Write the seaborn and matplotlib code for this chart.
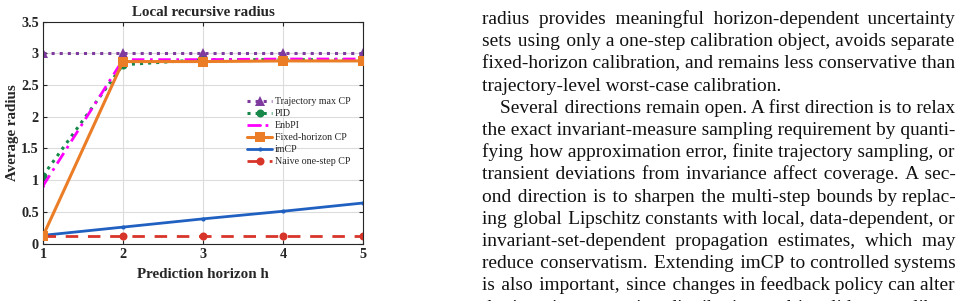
import numpy as np
import pandas as pd
import matplotlib
matplotlib.use("Agg")
import matplotlib.pyplot as plt
import seaborn as sns

# values
horizon = [1, 2, 3, 4, 5]
traj_max_cp = [3.01, 3.01, 3.01, 3.01, 3.01]
pid = [1.07, 2.82, 2.90, 2.90, 2.90]
enbpi = [0.91, 2.90, 2.90, 2.91, 2.91]
fixed_cp = [0.12, 2.87, 2.87, 2.88, 2.88]
imcp = [0.13, 0.26, 0.39, 0.51, 0.64]
naive_cp = [0.12, 0.12, 0.12, 0.12, 0.12]

yticks = [0, 0.5, 1, 1.5, 2, 2.5, 3, 3.5]
ytick_labels = ["0", "0.5", "1", "1.5", "2", "2.5", "3", "3.5"]

body_lines = [
    "radius provides meaningful horizon-dependent uncertainty",
    "sets using only a one-step calibration object, avoids separate",
    "fixed-horizon calibration, and remains less conservative than",
    "trajectory-level worst-case calibration.",
    "Several directions remain open. A first direction is to relax",
    "the exact invariant-measure sampling requirement by quanti-",
    "fying how approximation error, finite trajectory sampling, or",
    "transient deviations from invariance affect coverage. A sec-",
    "ond direction is to sharpen the multi-step bounds by replac-",
    "ing global Lipschitz constants with local, data-dependent, or",
    "invariant-set-dependent propagation estimates, which may",
    "reduce conservatism. Extending imCP to controlled systems",
    "is also important, since changes in feedback policy can alter",
    "the invariant operating distribution and invalidate a calibra-",
]
not_justified = [3]
indented = [4]

sns.set_style("ticks")
plt.rcParams["font.family"] = ["Liberation Serif", "DejaVu Serif"]

W, H = 964, 301
fig = plt.figure(figsize=(W / 100, H / 100), dpi=100)
ax = fig.add_axes([43 / W, (H - 243.6) / H, 320 / W, 222 / H])

series = [
    ("Trajectory max CP", traj_max_cp, dict(color="#7e3a9e", linestyle=":", marker="^", markersize=7, linewidth=2.2)),
    ("PID", pid, dict(color="#17874a", linestyle=":", marker="o", markersize=5.8, linewidth=2.2)),
    ("EnbPI", enbpi, dict(color="#ff00ff", linestyle=(0, (4.5, 2, 1, 2)), marker=".", markersize=4, linewidth=2)),
    ("Fixed-horizon CP", fixed_cp, dict(color="#ea7d26", linestyle="-", marker="s", markersize=6.5, linewidth=2.2, zorder=4)),
    ("imCP", imcp, dict(color="#2060c0", linestyle="-", marker=".", markersize=6, linewidth=2)),
    ("Naive one-step CP", naive_cp, dict(color="#d8352a", linestyle=(0, (4.5, 3.5)), marker="o", markersize=5.8, linewidth=2)),
]
for name, vals, style in series:
    sns.lineplot(x=horizon, y=vals, ax=ax, label=name, markeredgewidth=0, **style)

ax.set_xlim(1, 5)
ax.set_ylim(0, 3.5)
ax.set_xticks(horizon)
ax.set_xticklabels([str(h) for h in horizon])
ax.set_yticks(yticks)
ax.set_yticklabels(ytick_labels)
ax.grid(True, color="#dcdcdc", linewidth=0.8)
ax.set_axisbelow(True)
for s in ax.spines.values():
    s.set_visible(True)
    s.set_color("#262626")
    s.set_linewidth(0.8)
ax.tick_params(direction="in", top=True, right=True, length=3, width=0.8,
               labelsize=10.3, colors="#262626", pad=3)
for lab in ax.get_xticklabels() + ax.get_yticklabels():
    lab.set_fontweight("bold")

ax.set_title("Local recursive radius", fontsize=10.8, fontweight="bold", pad=4)
ax.set_xlabel("Prediction horizon h", fontsize=10.8, fontweight="bold", labelpad=5)
ax.set_ylabel("Average radius", fontsize=10.8, fontweight="bold", labelpad=1.5)

ax.legend(loc="upper left", bbox_to_anchor=(0.6375, 0.66), frameon=False,
          fontsize=7.2, handlelength=2.5, handletextpad=0.28, labelspacing=0.3,
          borderaxespad=0, borderpad=0, numpoints=1)

# justified text column on the right: one Text per line, word gaps
# widened with hair spaces so every line keeps a single baseline
renderer = fig.canvas.get_renderer()
col_left, col_right = 482, 955
body_size = 14.1
hair = "\u200a"


def text_width(s, size):
    t = fig.text(0, 0, s, fontsize=size)
    w = t.get_window_extent(renderer).width
    t.remove()
    return w


# shrink the body font if the tightest justified line would not fit
widest = max(text_width(l, body_size) + (18 if i in indented else 0)
             for i, l in enumerate(body_lines) if i not in not_justified)
if widest > col_right - col_left:
    body_size *= (col_right - col_left) / widest
hair_w = (text_width("a" + hair * 40 + "a", body_size) - text_width("aa", body_size)) / 40

for i, line in enumerate(body_lines):
    x0 = col_left + (18 if i in indented else 0)
    base = H - (24 + 22.2 * i)
    out = line
    words = line.split(" ")
    if i not in not_justified and len(words) > 1 and hair_w > 0:
        extra = (col_right - x0) - text_width(line, body_size)
        n_hairs = max(0, int(round(extra / hair_w)))
        gaps = len(words) - 1
        per, rem = divmod(n_hairs, gaps)
        out = words[0]
        for k, w in enumerate(words[1:]):
            out += " " + hair * (per + (1 if k < rem else 0)) + w
    fig.text(x0 / W, base / H, out, fontsize=body_size, va="baseline", ha="left",
             color="#111111")

fig.savefig("out.png", dpi=100)
